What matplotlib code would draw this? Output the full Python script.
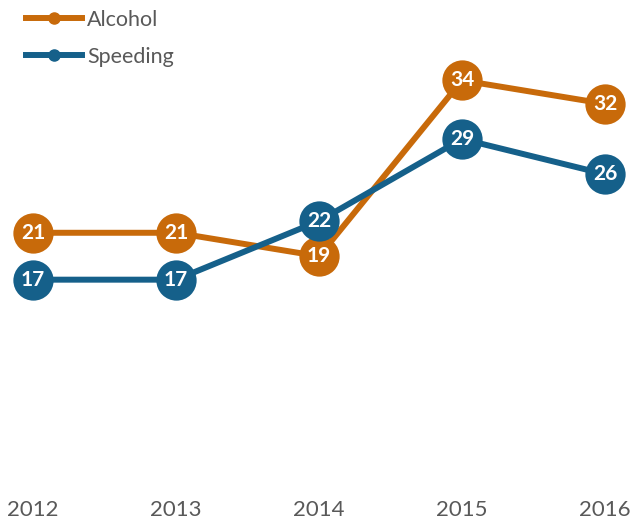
import matplotlib.pyplot as plt
from matplotlib.lines import Line2D

years = ["2012", "2013", "2014", "2015", "2016"]
alcohol = [21, 21, 19, 34, 32]
speeding = [17, 17, 22, 29, 26]

orange = "#C86A0A"
blue = "#15608A"
grey = "#595959"

fig = plt.figure(figsize=(6.33, 5.2), dpi=100)
ax = fig.add_axes([0, 41 / 520, 1, 469 / 520])

x = list(range(len(years)))
for vals, color, name in [(alcohol, orange, "Alcohol"), (speeding, blue, "Speeding")]:
    ax.plot(x, vals, color=color, lw=4.3, marker="o", markersize=29,
            markeredgewidth=0, solid_capstyle="round", label=name)
    for xi, v in zip(x, vals):
        ax.text(xi, v, str(v), ha="center", va="center", color="white",
                fontsize=15, fontweight="bold", family="Lato")

ax.set_xlim(-33 / 143, 4 + 28 / 143)
ax.set_ylim(0, 40)
ax.set_xticks(x)
ax.set_xticklabels(years, family="Lato", fontsize=16, color=grey)
ax.tick_params(axis="x", length=0, pad=15)
ax.set_yticks([])
for s in ax.spines.values():
    s.set_visible(False)

handles = [Line2D([], [], color=orange, lw=4.3, marker="o", markersize=8),
           Line2D([], [], color=blue, lw=4.3, marker="o", markersize=8)]
leg = fig.legend(handles, ["Alcohol", "Speeding"], loc="upper left",
                 bbox_to_anchor=(26 / 633, 1 - 10 / 520), frameon=False,
                 prop={"family": "Lato", "size": 15.5}, handlelength=2.6,
                 handletextpad=0.25, labelspacing=0.78, borderpad=0,
                 borderaxespad=0)
for t in leg.get_texts():
    t.set_color(grey)

fig.savefig("out.png", dpi=100)
